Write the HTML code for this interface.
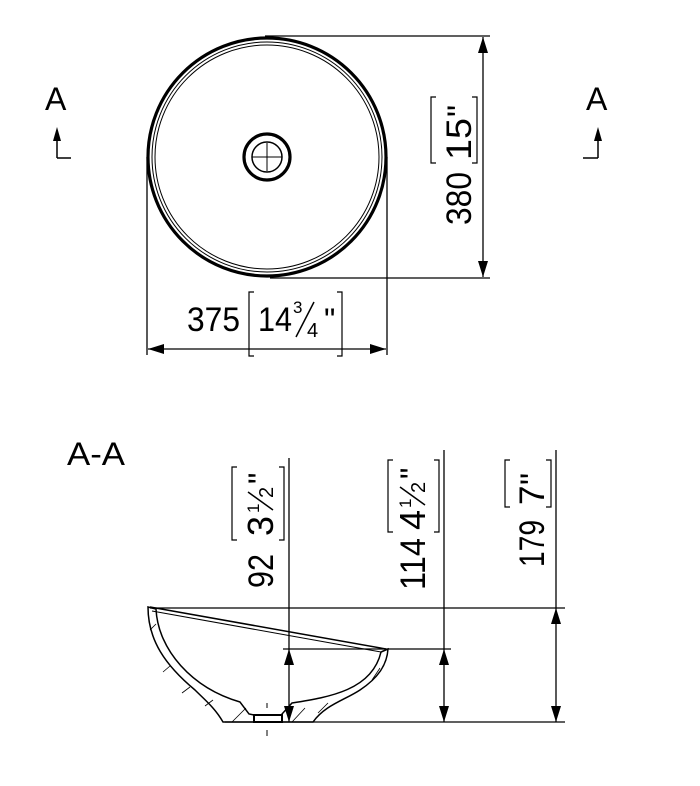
<!DOCTYPE html>
<html><head><meta charset="utf-8"><style>
html,body{margin:0;padding:0;background:#fff;}
svg{display:block;}
text{font-family:"Liberation Sans","DejaVu Sans",sans-serif;fill:#000;}
</style></head><body>
<svg width="700" height="786" viewBox="0 0 700 786" xmlns="http://www.w3.org/2000/svg">
<g stroke="#000" fill="none">
<circle cx="267" cy="157" r="119" stroke-width="3.2"/>
<circle cx="267" cy="157" r="115" stroke-width="1"/>
<circle cx="267" cy="157" r="112" stroke-width="1"/>
<circle cx="267" cy="157" r="23" stroke-width="3.2"/>
<circle cx="267" cy="157" r="15" stroke-width="1.5"/>
<line x1="252" y1="157" x2="282" y2="157" stroke-width="1"/>
<line x1="267" y1="143" x2="267" y2="171" stroke-width="1"/>
<line x1="265" y1="36" x2="490" y2="36" stroke-width="1.3"/>
<line x1="270" y1="278" x2="490" y2="278" stroke-width="1.3"/>
<line x1="483" y1="37" x2="483" y2="277" stroke-width="1.3"/>
<line x1="147" y1="157" x2="147" y2="355" stroke-width="1.3"/>
<line x1="387" y1="157" x2="387" y2="355" stroke-width="1.3"/>
<line x1="148" y1="349" x2="386" y2="349" stroke-width="1.3"/>
<path d="M254,292 h-5 v64 h5 M337,292 h5 v64 h-5" stroke-width="1.2"/>
<path d="M436,97 h-5 v66 h5 M472,97 h5 v66 h-5" stroke-width="1.2"/>
<path d="M57,158 v-22 M57,158 h14" stroke-width="1.5"/>
<path d="M598,158 v-22 M598,158 h-15" stroke-width="1.5"/>
<line x1="289" y1="458" x2="289" y2="722" stroke-width="1.3"/>
<line x1="444" y1="450" x2="444" y2="722" stroke-width="1.3"/>
<line x1="556" y1="450" x2="556" y2="722" stroke-width="1.3"/>
<line x1="150" y1="608" x2="565" y2="608" stroke-width="1.3"/>
<line x1="283" y1="649" x2="451" y2="649" stroke-width="1.3"/>
<line x1="225" y1="722" x2="565" y2="722" stroke-width="1.3"/>
<path d="M237,467 h-5 v73 h5 M279,467 h5 v73 h-5" stroke-width="1.2"/>
<path d="M393,460 h-5 v72 h5 M434,460 h5 v72 h-5" stroke-width="1.2"/>
<path d="M510,460 h-5 v47 h5 M546,460 h5 v47 h-5" stroke-width="1.2"/>
<path d="M148,607 L156,609 C158,650 192,688 240,702 L249,714 L254,715 L254,722 L223,722 C215,708 205,700 195,690 C165,665 148,640 148,607 z" stroke-width="1.5"/>
<path d="M388,649 L381,652 C372,690 330,697 292,703 L282,714 L282,722 L313,722 C325,705 345,700 360,690 C378,678 387,665 388,649 z" stroke-width="1.5"/>
<path d="M150,607 L386,649" stroke-width="1.5"/>
<path d="M152,611 L381,652" stroke-width="1"/>
<rect x="254" y="715" width="28" height="7" stroke-width="2"/>
<path d="M150,630 L156,624 M163,672 L170,666 M182,693 L190,687 M205,706 L213,700 M232,722 L246,708 M292,722 L305,708 M318,713 L328,703 M372,680 L380,668" stroke-width="0.8"/>
<line x1="267" y1="703" x2="267" y2="708" stroke-width="1"/>
<line x1="267" y1="730" x2="267" y2="736" stroke-width="1"/>
</g>
<g fill="#000">
<path d="M478,53 L483,37 L488,53 z"/><path d="M478,261 L483,277 L488,261 z"/>
<path d="M164,344 L148,349 L164,354 z"/><path d="M370,344 L386,349 L370,354 z"/>
<path d="M53,141 L57,127 L61,141 z"/><path d="M594,141 L598,127 L602,141 z"/>
<path d="M284,665 L289,649 L294,665 z"/><path d="M284,706 L289,722 L294,706 z"/>
<path d="M439,665 L444,649 L449,665 z"/><path d="M439,706 L444,722 L449,706 z"/>
<path d="M551,624 L556,608 L561,624 z"/><path d="M551,706 L556,722 L561,706 z"/>
</g>
<text x="45" y="110" font-size="32">A</text>
<text x="586" y="110" font-size="32">A</text>
<text x="67" y="465" font-size="32" textLength="58" lengthAdjust="spacingAndGlyphs">A-A</text>
<text x="187" y="331" font-size="34" textLength="53" lengthAdjust="spacingAndGlyphs">375</text>
<text x="258" y="331" font-size="34" textLength="34" lengthAdjust="spacingAndGlyphs">14</text>
<text x="293" y="313" font-size="17">3</text>
<line x1="296" y1="337" x2="314" y2="302" stroke="#000" stroke-width="1.5"/>
<text x="307" y="337" font-size="20">4</text>
<text x="324" y="331" font-size="32">"</text>
<g transform="translate(471,225) rotate(-90)">
<text x="0" y="0" font-size="35" textLength="53" lengthAdjust="spacingAndGlyphs">380</text>
<text x="65" y="0" font-size="35" textLength="42" lengthAdjust="spacingAndGlyphs">15</text>
<text x="108" y="0" font-size="34">"</text></g>
<g transform="translate(273,588) rotate(-90)">
<text x="0" y="0" font-size="35" textLength="34" lengthAdjust="spacingAndGlyphs">92</text>
<text x="52" y="0" font-size="36">3</text>
<text x="75" y="-14" font-size="17">1</text>
<line x1="78" y1="0" x2="96" y2="-25" stroke="#000" stroke-width="1.5"/>
<text x="90" y="0" font-size="20">2</text>
<text x="104" y="-2" font-size="32">"</text></g>
<g transform="translate(425,590) rotate(-90)">
<text x="0" y="0" font-size="35" textLength="52" lengthAdjust="spacingAndGlyphs">114</text>
<text x="60" y="0" font-size="36">4</text>
<text x="82" y="-14" font-size="17">1</text>
<line x1="85" y1="0" x2="103" y2="-25" stroke="#000" stroke-width="1.5"/>
<text x="97" y="0" font-size="20">2</text>
<text x="111" y="-2" font-size="32">"</text></g>
<g transform="translate(544,567) rotate(-90)">
<text x="0" y="0" font-size="35" textLength="47" lengthAdjust="spacingAndGlyphs">179</text>
<text x="62" y="0" font-size="35">7</text>
<text x="82" y="0" font-size="34">"</text></g>
</svg>
</body></html>
